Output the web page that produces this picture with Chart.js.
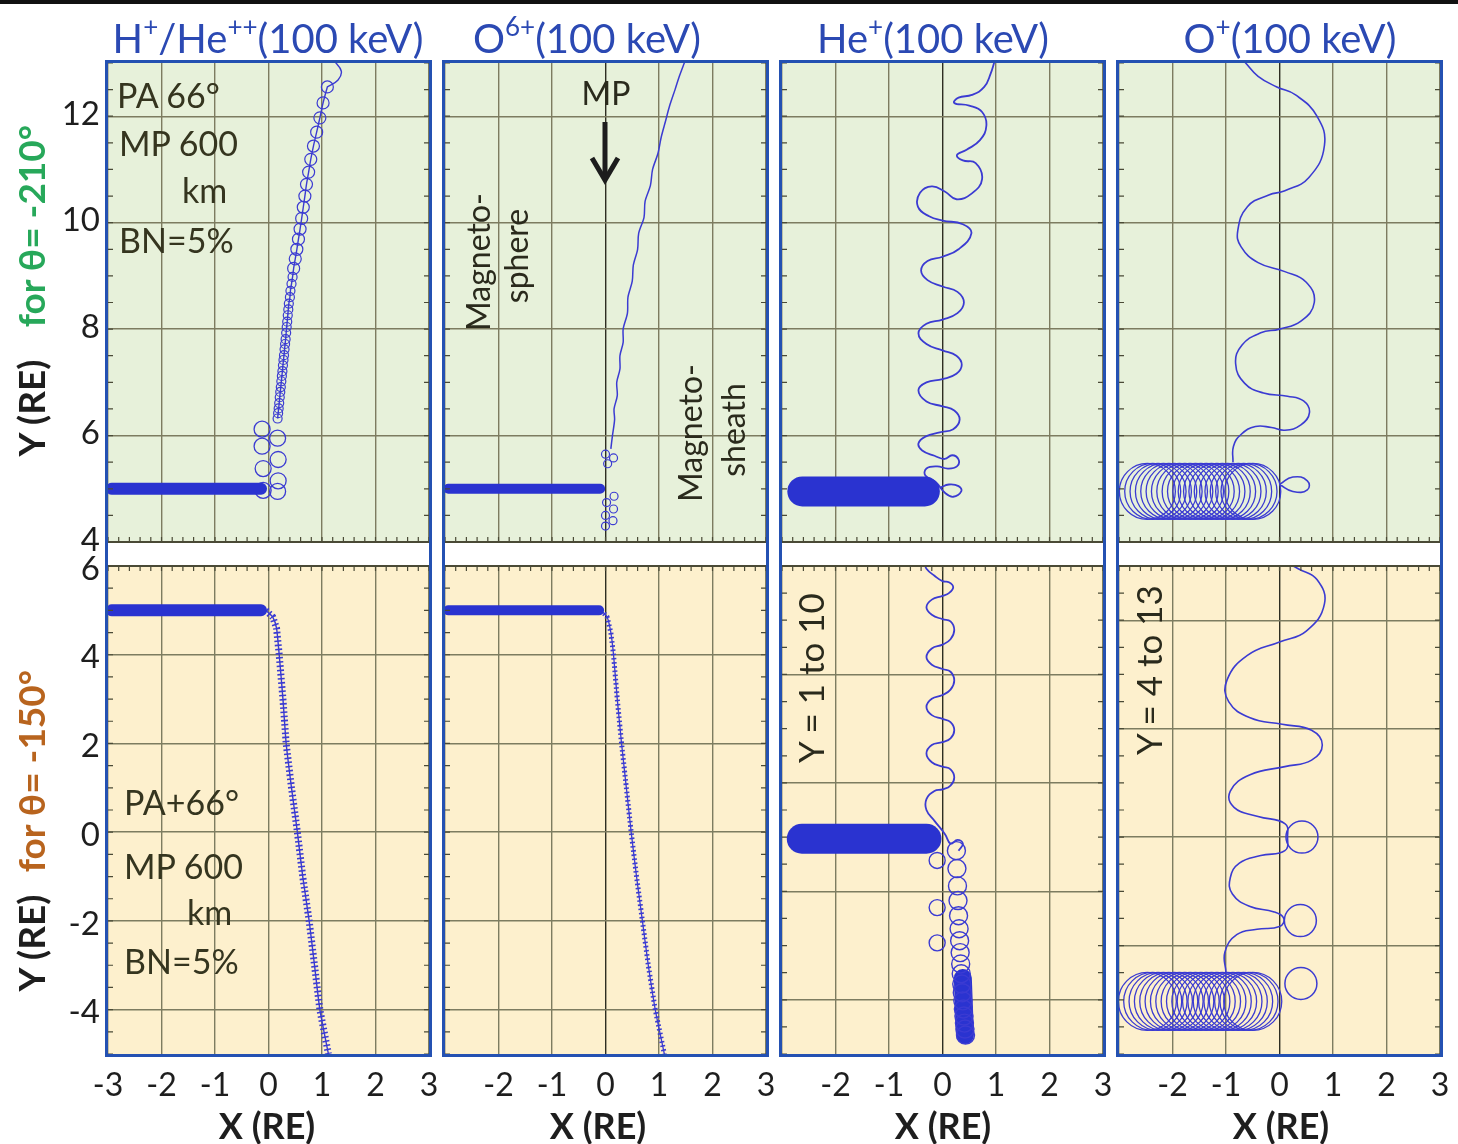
<!DOCTYPE html>
<html>
<head>
<meta charset="utf-8">
<title>Ion trajectories at the magnetopause</title>
<script src="https://cdn.jsdelivr.net/npm/chart.js@4.4.1/dist/chart.umd.min.js"></script>
<style>
  html, body { margin: 0; padding: 0; background: #fff; }
  body { position: relative; width: 1458px; height: 1144px; overflow: hidden; font-family: Lato, "Open Sans", sans-serif; }
  canvas { position: absolute; }
  #bar { position: absolute; left: 0; top: 0; width: 1458px; height: 4px; background: #111; }
  .frame { position: absolute; border: 3px solid #2451b2; box-sizing: border-box; pointer-events: none; z-index: 5; }
  .t { position: absolute; white-space: nowrap; transform: translate(-50%, -50%); line-height: 1; z-index: 6; }
  .ttl { font-size: 40px; color: #2b49b3; }
  .ttl sup { font-size: 26px; position: relative; top: -5px; vertical-align: top; line-height: 1; }
  .rot { transform: translate(-50%, -50%) rotate(-90deg); }
  .side { font-size: 37px; font-weight: 700; }
  .note { font-size: 34px; color: #35351f; transform: translate(0, -50%); }
  .lab { font-size: 32px; color: #2a2a1c; }
  .xt { font-size: 36px; font-weight: 700; color: #1e1e1e; }
  svg { position: absolute; z-index: 6; }
</style>
</head>
<body>
<div id="bar"></div>

<div class="t ttl" style="left:268px;top:38px">H<sup>+</sup>/He<sup>++</sup>(100 keV)</div>
<div class="t ttl" style="left:587px;top:38px">O<sup>6+</sup>(100 keV)</div>
<div class="t ttl" style="left:933px;top:38px">He<sup>+</sup>(100 keV)</div>
<div class="t ttl" style="left:1290px;top:38px">O<sup>+</sup>(100 keV)</div>

<div class="t rot side" style="left:30px;top:408px;color:#1e1e1e">Y (RE)</div>
<div class="t rot side" style="left:30px;top:226px;color:#27a85a">for θ= -210°</div>
<div class="t rot side" style="left:30px;top:943px;color:#1e1e1e">Y (RE)</div>
<div class="t rot side" style="left:30px;top:771px;color:#b8641e">for θ= -150°</div>

<div class="t note" style="left:117px;top:95px">PA 66°</div>
<div class="t note" style="left:119px;top:143px">MP 600</div>
<div class="t note" style="left:182px;top:190px">km</div>
<div class="t note" style="left:119px;top:240px">BN=5%</div>
<div class="t note" style="left:124px;top:802px">PA+66°</div>
<div class="t note" style="left:124px;top:866px">MP 600</div>
<div class="t note" style="left:187px;top:912px">km</div>
<div class="t note" style="left:124px;top:961px">BN=5%</div>

<div class="t lab" style="left:606px;top:93px">MP</div>
<div class="t rot lab" style="left:478px;top:262px">Magneto-</div>
<div class="t rot lab" style="left:516px;top:256px">sphere</div>
<div class="t rot lab" style="left:690px;top:433px">Magneto-</div>
<div class="t rot lab" style="left:733px;top:430px">sheath</div>
<div class="t rot lab" style="left:810px;top:678px;font-size:35px">Y = 1 to 10</div>
<div class="t rot lab" style="left:1148px;top:670px;font-size:35px">Y = 4 to 13</div>

<div class="t xt" style="left:267px;top:1125px">X (RE)</div>
<div class="t xt" style="left:598px;top:1125px">X (RE)</div>
<div class="t xt" style="left:943px;top:1125px">X (RE)</div>
<div class="t xt" style="left:1281px;top:1125px">X (RE)</div>

<svg style="left:589px;top:118px" width="32" height="70">
  <line x1="16" y1="4" x2="16" y2="60" stroke="#1d1d1d" stroke-width="5"/>
  <polyline points="3,40 16,62 29,40" fill="none" stroke="#1d1d1d" stroke-width="5"/>
</svg>

<script>
// ---- axis ticks ----
const xTicks = [-3, -2, -1, 0, 1, 2, 3];
const yTicksTop = [4, 6, 8, 10, 12];
const yTicksBotH = [-4, -2, 0, 2, 4, 6];
const yTicksBotHe = [2, 4, 6, 8, 10];
const yTicksBotO = [6, 8, 10, 12];

// ---- H+/He++ , theta -210 ----
const bandA = [[-2.93, 5.0], [-0.14, 5.0]];
const loopsA = [[-0.12, 6.12], [-0.12, 5.8], [-0.1, 5.38], [-0.1, 4.97], [0.17, 5.95], [0.18, 5.55], [0.18, 5.15], [0.17, 4.95]];
const curlLowA = [[0.17, 6.32], [0.18, 6.42], [0.19, 6.51], [0.2, 6.61], [0.21, 6.72], [0.22, 6.82], [0.23, 6.91], [0.24, 7.02],
  [0.25, 7.12], [0.26, 7.21], [0.27, 7.32], [0.28, 7.42], [0.29, 7.51], [0.3, 7.62], [0.31, 7.72], [0.32, 7.81], [0.33, 7.93],
  [0.34, 8.04], [0.35, 8.14], [0.36, 8.26], [0.37, 8.37], [0.38, 8.48], [0.4, 8.6], [0.41, 8.72], [0.43, 8.85], [0.45, 8.98]];
const curlHighA = [[0.47, 9.14], [0.5, 9.32], [0.53, 9.5], [0.56, 9.69], [0.59, 9.88], [0.62, 10.08], [0.65, 10.29], [0.68, 10.5],
  [0.71, 10.72], [0.75, 10.95], [0.79, 11.19], [0.84, 11.44], [0.9, 11.7], [0.96, 11.97], [1.02, 12.25], [1.1, 12.55]];
const tailA = [[1.1, 12.55], [1.3, 12.68], [1.36, 12.85], [1.22, 13.05]];

// ---- H+/He++ , theta -150 ----
const bandB = [[-2.93, 5.0], [-0.14, 5.0]];
const pathB = [[-0.05, 5.0], [0.08, 4.85], [0.15, 4.6], [0.2, 4.0], [0.27, 3.0], [0.33, 2.0], [0.43, 1.0], [0.54, 0.0],
  [0.64, -1.0], [0.76, -2.0], [0.86, -3.0], [0.96, -4.0], [1.12, -5.0]];

// ---- O6+ , theta -210 ----
const bandC = [[-2.94, 5.0], [-0.1, 5.0]];
const loopsC = [[0.0, 5.65], [0.15, 5.58], [0.04, 5.47], [0.16, 4.86], [0.02, 4.74], [0.15, 4.62], [0.0, 4.5], [0.14, 4.4], [0.0, 4.3]];
const pathC = [[0.1, 5.75], [0.13, 6.0], [0.17, 6.3], [0.16, 6.5], [0.22, 6.75], [0.21, 7.0], [0.27, 7.25], [0.27, 7.5], [0.33, 7.75],
  [0.33, 8.0], [0.41, 8.3], [0.42, 8.6], [0.5, 8.9], [0.52, 9.2], [0.6, 9.5], [0.62, 9.8], [0.72, 10.1], [0.74, 10.4], [0.84, 10.7],
  [0.88, 11.0], [0.98, 11.3], [1.04, 11.6], [1.12, 11.9], [1.2, 12.2], [1.3, 12.5], [1.38, 12.75], [1.48, 13.02]];

// ---- O6+ , theta -150 ----
const bandD = [[-2.94, 5.0], [-0.12, 5.0]];
const pathD = [[-0.08, 5.0], [0.03, 4.85], [0.1, 4.5], [0.15, 4.0], [0.22, 3.0], [0.3, 2.0], [0.39, 1.0], [0.48, 0.0], [0.58, -1.0],
  [0.69, -2.0], [0.8, -3.0], [0.93, -4.0], [1.1, -5.0]];

// ---- He+ , theta -210 ----
const bandE = [[-2.62, 4.95], [-0.33, 4.95]];
const pathE = [[-0.05, 5.02], [0.12, 5.08], [0.3, 5.05], [0.35, 4.95], [0.2, 4.85], [0.05, 4.92], [-0.12, 5.12], [-0.32, 5.25],
  [-0.3, 5.38], [-0.1, 5.42], [0.1, 5.38], [0.27, 5.42], [0.3, 5.55], [0.18, 5.63], [0.04, 5.56], [-0.15, 5.62], [-0.38, 5.72],
  [-0.45, 5.85], [-0.32, 5.98], [-0.05, 6.06], [0.2, 6.12], [0.32, 6.3], [0.22, 6.47], [0.0, 6.55], [-0.3, 6.64], [-0.45, 6.85],
  [-0.3, 7.0], [0.0, 7.06], [0.26, 7.16], [0.36, 7.33], [0.26, 7.5], [0.0, 7.6], [-0.3, 7.72], [-0.45, 7.92], [-0.3, 8.1],
  [0.0, 8.18], [0.28, 8.3], [0.4, 8.5], [0.28, 8.7], [0.0, 8.8], [-0.28, 8.92], [-0.4, 9.1], [-0.28, 9.28], [0.0, 9.36],
  [0.3, 9.5], [0.54, 9.8], [0.38, 9.97], [0.0, 10.04], [-0.25, 10.12], [-0.46, 10.3], [-0.42, 10.56], [-0.2, 10.68],
  [0.05, 10.58], [0.26, 10.44], [0.55, 10.55], [0.74, 10.82], [0.62, 11.12], [0.38, 11.17], [0.27, 11.27], [0.45, 11.37],
  [0.7, 11.55], [0.82, 11.82], [0.74, 12.08], [0.5, 12.2], [0.22, 12.25], [0.3, 12.35], [0.55, 12.4], [0.78, 12.55],
  [0.9, 12.8], [0.97, 13.02]];

// ---- He+ , theta -150 (Y = 1 to 10) ----
const bandF = [[-2.63, 4.97], [-0.3, 4.97]];
const pathF = [[0.3, 4.75], [0.38, 4.88], [0.28, 4.95], [0.15, 4.88], [0.05, 5.05], [-0.15, 5.3], [-0.3, 5.5], [-0.3, 5.7],
  [-0.15, 5.85], [0.0, 5.88], [0.15, 5.95], [0.22, 6.1], [0.15, 6.25], [0.0, 6.3], [-0.2, 6.38], [-0.3, 6.54], [-0.2, 6.7],
  [0.0, 6.75], [0.15, 6.82], [0.22, 6.97], [0.15, 7.12], [0.0, 7.18], [-0.2, 7.25], [-0.3, 7.4], [-0.2, 7.55], [0.0, 7.62],
  [0.15, 7.72], [0.22, 7.89], [0.15, 8.05], [0.0, 8.1], [-0.2, 8.18], [-0.3, 8.32], [-0.2, 8.48], [0.0, 8.55], [0.15, 8.65],
  [0.22, 8.82], [0.15, 8.98], [0.0, 9.02], [-0.2, 9.1], [-0.3, 9.24], [-0.2, 9.38], [0.0, 9.45], [0.12, 9.5], [0.2, 9.61],
  [0.12, 9.7], [0.0, 9.72], [-0.15, 9.82], [-0.3, 9.95], [-0.33, 10.05]];
const ringsF = [[0.26, 4.75], [0.27, 4.42], [0.28, 4.1], [0.29, 3.83], [0.3, 3.55], [0.31, 3.31], [0.32, 3.09], [0.33, 2.87],
  [0.34, 2.66], [0.35, 2.48], [0.36, 2.29], [0.37, 2.13], [0.38, 1.98], [0.39, 1.83], [0.4, 1.7], [0.41, 1.57], [0.42, 1.46], [0.43, 1.35]];
const sideLoopsF = [[-0.1, 4.57], [-0.1, 3.7], [-0.1, 3.05]];
const blobF = [[0.38, 2.4], [0.42, 1.35]];

// ---- O+ , both angles ----
const coilX = [-2.47, -2.37, -2.27, -2.17, -2.07, -1.97, -1.87, -1.77, -1.67, -1.57, -1.47, -1.37, -1.27, -1.17, -1.07, -0.97,
  -0.87, -0.77, -0.67, -0.57, -0.5];
const coilG = coilX.map(x => [x, 4.95]);
const loopG = [[0.0, 5.08], [0.25, 5.22], [0.52, 5.15], [0.52, 4.98], [0.25, 4.95], [0.0, 5.08]];
const pathG = [[-0.87, 5.5], [-0.86, 5.8], [-0.72, 6.02], [-0.45, 6.17], [-0.15, 6.15], [0.1, 6.1], [0.4, 6.2], [0.56, 6.43],
  [0.45, 6.65], [0.15, 6.74], [-0.3, 6.8], [-0.65, 6.98], [-0.82, 7.35], [-0.7, 7.7], [-0.35, 7.93], [0.0, 8.0], [0.4, 8.15],
  [0.65, 8.5], [0.5, 8.88], [0.1, 9.08], [-0.4, 9.25], [-0.72, 9.55], [-0.78, 9.85], [-0.6, 10.3], [-0.2, 10.52], [0.1, 10.6],
  [0.55, 10.85], [0.84, 11.45], [0.7, 12.0], [0.3, 12.4], [-0.05, 12.55], [-0.4, 12.75], [-0.65, 13.02]];

const coilH = coilX.map(x => [x, 4.97]);
const loopsH = [[0.4, 5.3], [0.39, 6.46], [0.42, 8.0]];
const pathH = [[-1.0, 5.5], [-1.02, 5.88], [-0.8, 6.2], [-0.42, 6.3], [0.0, 6.35], [0.08, 6.5], [-0.1, 6.62], [-0.55, 6.72],
  [-0.88, 6.95], [-0.92, 7.25], [-0.75, 7.52], [-0.35, 7.66], [0.1, 7.75], [0.15, 8.0], [0.1, 8.25], [-0.4, 8.38], [-0.85, 8.55],
  [-0.92, 8.85], [-0.55, 9.15], [0.1, 9.3], [0.6, 9.42], [0.8, 9.7], [0.6, 9.97], [0.05, 10.08], [-0.55, 10.2], [-0.95, 10.5],
  [-0.98, 10.9], [-0.6, 11.35], [0.0, 11.6], [0.5, 11.8], [0.84, 12.3], [0.7, 12.75], [0.35, 12.95], [0.15, 13.05]];

// ---- layout ----
const COL_L = [108, 445, 782, 1119], COL_W = 321;
const ROWS = [{ top: 63, h: 479, lab: -2 }, { top: 566, h: 488, lab: 3 }];
const TRAJ = "#3b3bd2", BAND = "#2a33d0";

Chart.defaults.font.family = "Lato, 'Open Sans', sans-serif";
Chart.defaults.color = "#1e1e1e";

const P = (a) => a.map(([x, y]) => ({ x, y }));
const band = (pts, w) => ({ data: P(pts), showLine: true, borderColor: BAND, borderWidth: w, borderCapStyle: "round", pointRadius: 0 });
const path = (pts, w = 1.6, t = 0.4) => ({ data: P(pts), showLine: true, borderColor: TRAJ, borderWidth: w, tension: t, pointRadius: 0 });
const rings = (pts, r, w = 1.3) => ({ data: P(pts), showLine: false, pointRadius: r, pointHoverRadius: r, pointBorderWidth: w,
  pointBorderColor: TRAJ, pointBackgroundColor: "rgba(0,0,0,0)" });
const comb = (pts, w) => ({ data: P(pts), showLine: true, borderColor: TRAJ, borderWidth: w, borderDash: [1.6, 2.6], pointRadius: 0 });

const bgPlugin = {
  id: "bg",
  beforeDraw(chart, _a, o) {
    const { ctx, chartArea: a } = chart;
    ctx.save(); ctx.fillStyle = o.color;
    ctx.fillRect(a.left, a.top, a.right - a.left, a.bottom - a.top);
    ctx.restore();
  }
};

// dark edge line on the gap side + small inward minor ticks
const edgePlugin = {
  id: "edge",
  afterDraw(chart, _a, o) {
    const { ctx, chartArea: a, scales: { x, y } } = chart;
    const ey = o.side === "bottom" ? a.bottom : a.top, d = o.side === "bottom" ? -1 : 1;
    ctx.save();
    ctx.strokeStyle = "#4a4a36"; ctx.lineWidth = 2;
    ctx.beginPath(); ctx.moveTo(a.left, ey); ctx.lineTo(a.right, ey); ctx.stroke();
    ctx.lineWidth = 1.2; ctx.beginPath();
    for (let v = -3; v <= 3.001; v += 0.2) {
      const px = x.getPixelForValue(v); ctx.moveTo(px, ey); ctx.lineTo(px, ey + d * 5);
    }
    for (let v = Math.ceil(y.min * 2) / 2; v <= y.max + 1e-6; v += 0.5) {
      const py = y.getPixelForValue(v);
      ctx.moveTo(a.left, py); ctx.lineTo(a.left + 5, py);
      ctx.moveTo(a.right, py); ctx.lineTo(a.right - 5, py);
    }
    ctx.stroke(); ctx.restore();
  }
};

function panel(col, row, yMin, yMax, yTicks, sets) {
  const L = COL_L[col], W = COL_W, { top: T, h: H, lab } = ROWS[row];
  const showY = col === 0, showX = row === 1;
  const m = { l: showY ? 80 : 0, r: 14, t: 22, b: showX ? 70 : 22 };
  const xh = showX ? 50 : 0;
  const cv = document.createElement("canvas");
  const cw = W + m.l + m.r, ch = H + m.t + m.b;
  cv.width = cw; cv.height = ch;
  Object.assign(cv.style, { left: (L - m.l) + "px", top: (T - m.t) + "px", width: cw + "px", height: ch + "px" });
  document.body.appendChild(cv);
  new Chart(cv, {
    type: "scatter",
    data: { datasets: sets },
    options: {
      responsive: false, animation: false, devicePixelRatio: 1, events: [],
      layout: { autoPadding: false, padding: { left: 0, right: m.r, top: m.t, bottom: m.b - xh } },
      plugins: { legend: { display: false }, tooltip: { enabled: false },
        bg: { color: row ? "#fdf0cd" : "#e7f1da" }, edge: { side: row ? "top" : "bottom" } },
      scales: {
        x: {
          min: -3, max: 3,
          afterBuildTicks: s => { s.ticks = xTicks.map(v => ({ value: v })); },
          afterFit: s => { s.height = xh; s.paddingLeft = 0; s.paddingRight = 0; },
          grid: { color: c => (col > 0 && c.tick && c.tick.value === 0 ? "#2e2e22" : "#7d7c60"), lineWidth: 1.4, drawTicks: false },
          border: { display: false },
          ticks: { display: showX, autoSkip: false, maxRotation: 0, padding: 12, font: { size: 32 }, color: "#1e1e1e",
            callback: v => (col > 0 && v === -3 ? "" : String(v)) }
        },
        y: {
          min: yMin, max: yMax,
          afterBuildTicks: s => { s.ticks = yTicks.map(v => ({ value: v })); },
          afterFit: s => { s.width = m.l; s.paddingTop = 0; s.paddingBottom = 0; },
          grid: { color: "#7d7c60", lineWidth: 1.4, drawTicks: false },
          border: { display: false },
          ticks: { display: showY, padding: 8, labelOffset: lab, font: { size: 33 }, color: "#1e1e1e" }
        }
      }
    },
    plugins: [bgPlugin, edgePlugin]
  });
}

// column frames
COL_L.forEach(L => {
  const f = document.createElement("div");
  f.className = "frame";
  Object.assign(f.style, { left: (L - 3) + "px", top: "60px", width: (COL_W + 6) + "px", height: "997px" });
  document.body.appendChild(f);
});

panel(0, 0, 4, 13, yTicksTop, [band(bandA, 12), rings(loopsA, 8), path(curlLowA.concat(curlHighA, tailA), 1.4),
  rings(curlLowA, 4.5, 1.2), rings(curlHighA, 6, 1.2)]);
panel(0, 1, -5, 6, yTicksBotH, [band(bandB, 12), comb(pathB, 7), path(pathB, 1.4, 0.2)]);
panel(1, 0, 4, 13, yTicksTop, [band(bandC, 10), rings(loopsC, 4, 1.2), path(pathC, 1.5, 0.3)]);
panel(1, 1, -5, 6, yTicksBotH, [band(bandD, 10), comb(pathD, 5), path(pathD, 1.3, 0.2)]);
panel(2, 0, 4, 13, yTicksTop, [band(bandE, 30), path(pathE, 1.8, 0.45)]);
panel(2, 1, 1, 10, yTicksBotHe, [band(bandF, 30), path(pathF, 1.8, 0.45), rings(ringsF, 9, 1.4), rings(sideLoopsF, 8, 1.4),
  band(blobF, 18)]);
panel(3, 0, 4, 13, yTicksTop, [rings(coilG, 28, 1.3), path(loopG, 1.6, 0.5), path(pathG, 1.6, 0.45)]);
panel(3, 1, 4, 13, yTicksBotO, [rings(coilH, 29, 1.3), rings(loopsH, 16, 1.5), path(pathH, 1.6, 0.45)]);
</script>
</body>
</html>
